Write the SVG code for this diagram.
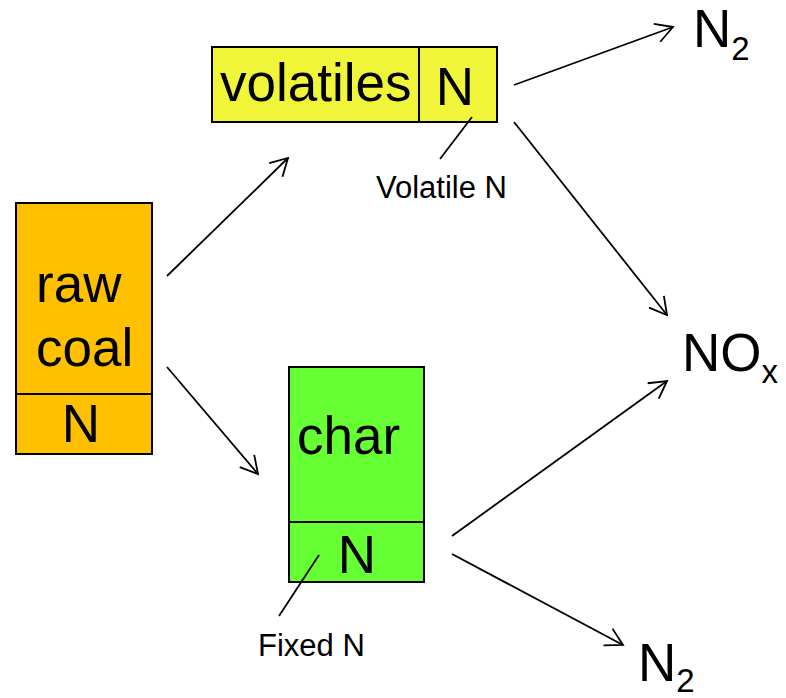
<svg xmlns="http://www.w3.org/2000/svg" width="786" height="698" viewBox="0 0 786 698">
  <style>
    .box { stroke: #000; stroke-width: 2; }
    .big { font-family: "Liberation Sans", Arial, sans-serif; font-size: 53px; fill: #000; }
    .sub { font-family: "Liberation Sans", Arial, sans-serif; font-size: 33px; fill: #000; }
    .note { font-family: "Liberation Sans", Arial, sans-serif; font-size: 31px; fill: #000; }
    .conn { stroke: #000; stroke-width: 1.8; fill: none; }
    .lead { stroke: #000; stroke-width: 1.8; fill: none; }
  </style>
  <defs>
    <marker id="arrow" markerUnits="userSpaceOnUse" markerWidth="40" markerHeight="40" viewBox="-20 -20 40 40" refX="0" refY="0" orient="auto" overflow="visible">
      <path d="M-17,-9.5 L0,0 L-17,9.5" fill="none" stroke="#000" stroke-width="1.8"/>
    </marker>
  </defs>
  <rect width="786" height="698" fill="#fff"/>

  <!-- raw coal -->
  <g id="raw-coal">
    <rect class="box" x="16" y="203" width="136" height="191" fill="#FFC000"/>
    <rect class="box" x="16" y="394" width="136" height="60" fill="#FFC000"/>
    <text class="big" x="36" y="302">raw</text>
    <text class="big" x="36" y="366">coal</text>
    <text class="big" x="81" y="442" text-anchor="middle">N</text>
  </g>

  <!-- volatiles -->
  <g id="volatiles">
    <rect class="box" x="212" y="47" width="207" height="75" fill="#F0F53A"/>
    <rect class="box" x="419" y="47" width="78" height="75" fill="#F0F53A"/>
    <text class="big" x="220" y="101">volatiles</text>
    <text class="big" x="455" y="105" text-anchor="middle">N</text>
  </g>

  <!-- char -->
  <g id="char">
    <rect class="box" x="289" y="367" width="135" height="155" fill="#66FF33"/>
    <rect class="box" x="289" y="522" width="135" height="60" fill="#66FF33"/>
    <text class="big" x="297" y="454">char</text>
    <text class="big" x="357" y="573" text-anchor="middle">N</text>
  </g>

  <!-- products -->
  <g id="n2-top">
    <text class="big" x="693" y="47">N<tspan class="sub" dy="13">2</tspan></text>
  </g>
  <g id="nox">
    <text class="big" x="682" y="371">NO<tspan class="sub" dy="12">x</tspan></text>
  </g>
  <g id="n2-bottom">
    <text class="big" x="638" y="681">N<tspan class="sub" dy="11">2</tspan></text>
  </g>

  <!-- labels with leader lines -->
  <g id="volatile-n-label">
    <line class="lead" x1="472" y1="117" x2="440" y2="159"/>
    <text class="note" x="376" y="198">Volatile N</text>
  </g>
  <g id="fixed-n-label">
    <line class="lead" x1="319" y1="555" x2="279" y2="616"/>
    <text class="note" x="258" y="656">Fixed N</text>
  </g>

  <!-- reaction arrows -->
  <g id="connectors">
    <line class="conn" x1="167" y1="276" x2="288" y2="158" marker-end="url(#arrow)"/>
    <line class="conn" x1="167" y1="367" x2="258" y2="474" marker-end="url(#arrow)"/>
    <line class="conn" x1="514" y1="85" x2="673" y2="27" marker-end="url(#arrow)"/>
    <line class="conn" x1="514" y1="122" x2="667" y2="315" marker-end="url(#arrow)"/>
    <line class="conn" x1="452" y1="536" x2="667" y2="381" marker-end="url(#arrow)"/>
    <line class="conn" x1="452" y1="554" x2="623" y2="645" marker-end="url(#arrow)"/>
  </g>
</svg>
